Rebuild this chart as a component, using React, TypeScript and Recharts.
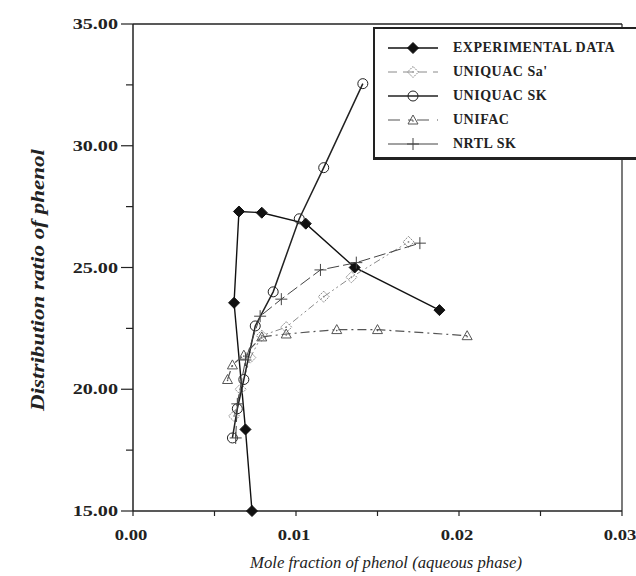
import React from 'react';
import { ScatterChart, Scatter, XAxis, YAxis, Legend, ReferenceLine, Label } from 'recharts';

// experimental points, in the order the line joins them
const expX = [0.0073, 0.0069, 0.0062, 0.0065, 0.0079, 0.0106, 0.0136, 0.0188];
const expY = [15.0, 18.35, 23.55, 27.3, 27.25, 26.8, 25.0, 23.25];

const saX = [0.0062, 0.0066, 0.0072, 0.0079, 0.0094, 0.0117, 0.0134, 0.0169];
const saY = [18.9, 20.0, 21.3, 22.2, 22.55, 23.8, 24.6, 26.05];

const skX = [0.0061, 0.0064, 0.0068, 0.0075, 0.0086, 0.0102, 0.0117, 0.0141];
const skY = [18.0, 19.2, 20.4, 22.6, 24.0, 27.0, 29.1, 32.55];

const unifacX = [0.0058, 0.0061, 0.0068, 0.0079, 0.0094, 0.0125, 0.015, 0.0205];
const unifacY = [20.4, 21.0, 21.4, 22.15, 22.27, 22.45, 22.45, 22.2];

const nrtlX = [0.0063, 0.0064, 0.0069, 0.0078, 0.0091, 0.0115, 0.0137, 0.0176];
const nrtlY = [18.0, 19.4, 21.2, 23.0, 23.7, 24.9, 25.2, 26.0];

const xTicks = [0, 0.005, 0.01, 0.015, 0.02, 0.025, 0.03];
const yTicks = [15, 17.5, 20, 22.5, 25, 27.5, 30, 32.5, 35];

const zip = (xs: number[], ys: number[]) => xs.map((x, i) => ({ x, y: ys[i] }));

const SERIF = '"Liberation Serif", "DejaVu Serif", serif';

type Kind = 'diamond' | 'diamondOpen' | 'circle' | 'triangle' | 'plus';

function Marker({ kind, cx, cy, color }: { kind: Kind; cx: number; cy: number; color: string }) {
  if (kind === 'diamond') {
    const s = 5.5;
    return <polygon points={`${cx},${cy - s} ${cx + s},${cy} ${cx},${cy + s} ${cx - s},${cy}`} fill={color} stroke={color} />;
  }
  if (kind === 'diamondOpen') {
    const s = 5.5;
    return (
      <g>
        <polygon points={`${cx},${cy - s} ${cx + s},${cy} ${cx},${cy + s} ${cx - s},${cy}`} fill="none" stroke={color} strokeDasharray="2 1" />
        <circle cx={cx} cy={cy} r={0.9} fill={color} />
      </g>
    );
  }
  if (kind === 'circle') {
    return <circle cx={cx} cy={cy} r={5} fill="none" stroke={color} strokeWidth={1} />;
  }
  if (kind === 'triangle') {
    return (
      <g>
        <polygon points={`${cx},${cy - 5} ${cx + 5},${cy + 4} ${cx - 5},${cy + 4}`} fill="none" stroke={color} />
        <circle cx={cx} cy={cy + 1} r={0.8} fill={color} />
      </g>
    );
  }
  return (
    <g stroke={color} strokeWidth={1}>
      <line x1={cx - 6} y1={cy} x2={cx + 6} y2={cy} />
      <line x1={cx} y1={cy - 6} x2={cx} y2={cy + 6} />
    </g>
  );
}

const series = [
  { name: 'EXPERIMENTAL DATA', data: zip(expX, expY), kind: 'diamond' as Kind, color: '#111', width: 1.4, dash: undefined, legendDash: undefined },
  { name: "UNIQUAC Sa'", data: zip(saX, saY), kind: 'diamondOpen' as Kind, color: '#8a8a8a', width: 1, dash: '7 3 2 3 2 3', legendDash: '9 6' },
  { name: 'UNIQUAC SK', data: zip(skX, skY), kind: 'circle' as Kind, color: '#222', width: 1.5, dash: undefined, legendDash: undefined },
  { name: 'UNIFAC', data: zip(unifacX, unifacY), kind: 'triangle' as Kind, color: '#555', width: 1.2, dash: '9 4 2 4', legendDash: '12 8 5 4' },
  { name: 'NRTL SK', data: zip(nrtlX, nrtlY), kind: 'plus' as Kind, color: '#444', width: 1, dash: '12 4', legendDash: undefined },
];

function YTick(props: any) {
  const { x, y, payload } = props;
  const major = payload.value % 5 === 0;
  return (
    <g>
      <line x1={x - (major ? 12 : 7)} y1={y} x2={x} y2={y} stroke="#222" strokeWidth={1.2} />
      {major && (
        <text
          transform={`translate(${x - 15},${y + 5}) scale(1.3,1)`}
          textAnchor="end"
          fontFamily={SERIF}
          fontWeight="bold"
          fontSize={15.5}
          fill="#222"
        >
          {payload.value.toFixed(2)}
        </text>
      )}
    </g>
  );
}

function XTick(props: any) {
  const { x, y, payload } = props;
  const major = Math.abs(payload.value * 100 - Math.round(payload.value * 100)) < 1e-6;
  return (
    <g>
      <line x1={x} y1={y} x2={x} y2={y + 5} stroke="#222" strokeWidth={1.2} />
      {major && (
        <text
          transform={`translate(${x - 2},${y + 29}) scale(1.2,1)`}
          textAnchor="middle"
          fontFamily={SERIF}
          fontWeight="bold"
          fontSize={15.5}
          fill="#222"
        >
          {payload.value.toFixed(2)}
        </text>
      )}
    </g>
  );
}

function LegendBox() {
  return (
    <div
      style={{
        width: 275,
        height: 133,
        border: '2px solid #222',
        borderBottomWidth: 3,
        background: '#fff',
        boxSizing: 'border-box',
        paddingTop: 7,
      }}
    >
      {series.map((s) => (
        <div key={s.name} style={{ display: 'flex', alignItems: 'center', height: 24 }}>
          <svg width={78} height={16} style={{ flex: 'none' }}>
            <line x1={13} y1={8} x2={63} y2={8} stroke={s.color} strokeWidth={s.width} strokeDasharray={s.legendDash} />
            <Marker kind={s.kind} cx={38} cy={8} color={s.color} />
          </svg>
          <span style={{ fontFamily: SERIF, fontWeight: 'bold', fontSize: 14, letterSpacing: 0.5, color: '#222' }}>
            {s.name}
          </span>
        </div>
      ))}
    </div>
  );
}

const YTitle = () => (
  <text
    transform="translate(44,280) rotate(-90)"
    textAnchor="middle"
    fontFamily={SERIF}
    fontStyle="italic"
    fontWeight="bold"
    fontSize={18}
    fill="#222"
    textLength={262}
    lengthAdjust="spacingAndGlyphs"
  >
    Distribution ratio of phenol
  </text>
);

const XTitle = () => (
  <text
    x={386}
    y={568}
    textAnchor="middle"
    fontFamily={SERIF}
    fontStyle="italic"
    fontSize={16.5}
    fill="#222"
    textLength={272}
    lengthAdjust="spacingAndGlyphs"
  >
    Mole fraction of phenol (aqueous phase)
  </text>
);

export default function App() {
  return (
    <div style={{ position: 'absolute', left: 0, top: 0, width: 636, height: 576, overflow: 'hidden', background: '#fff' }}>
      <ScatterChart width={636} height={576} margin={{ top: 24, right: 14, bottom: 0, left: 0 }}>
        <XAxis
          type="number"
          dataKey="x"
          domain={[0, 0.03]}
          ticks={xTicks}
          interval={0}
          height={65}
          tickSize={0}
          tickMargin={0}
          tickLine={false}
          tick={<XTick />}
          axisLine={{ stroke: '#222', strokeWidth: 1.5 }}
        >
          <Label content={<XTitle />} />
        </XAxis>
        <YAxis
          type="number"
          dataKey="y"
          domain={[15, 35]}
          ticks={yTicks}
          interval={0}
          width={133}
          tickSize={0}
          tickMargin={0}
          tickLine={false}
          tick={<YTick />}
          axisLine={{ stroke: '#222', strokeWidth: 1.5 }}
        >
          <Label content={<YTitle />} />
        </YAxis>
        <ReferenceLine y={35} stroke="#222" strokeWidth={1.5} />
        <ReferenceLine x={0.03} stroke="#222" strokeWidth={1.2} />
        {series.map((s) => (
          <Scatter
            key={s.name}
            name={s.name}
            data={s.data}
            isAnimationActive={false}
            line={{ stroke: s.color, strokeWidth: s.width, strokeDasharray: s.dash }}
            lineType="joint"
            shape={(p: any) => <Marker kind={s.kind} cx={p.cx} cy={p.cy} color={s.color} />}
          />
        ))}
        <Legend
          layout="horizontal"
          verticalAlign="middle"
          content={() => <LegendBox />}
          wrapperStyle={{ left: 373, top: 27, width: 275 }}
        />
      </ScatterChart>
    </div>
  );
}
